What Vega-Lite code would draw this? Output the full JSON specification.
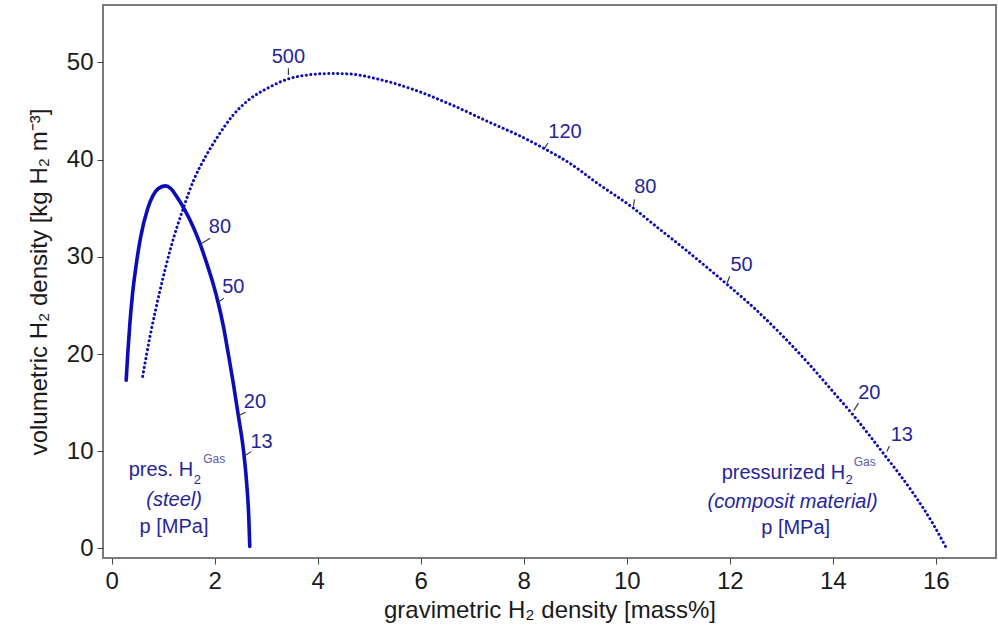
{
  "$schema": "https://vega.github.io/schema/vega-lite/v6.json",
  "width": 893,
  "height": 553,
  "autosize": "none",
  "padding": {"left": 103, "top": 5, "right": 2, "bottom": 69},
  "background": "white",
  "config": {
    "view": {"stroke": "#7a7a7a", "strokeWidth": 2},
    "font": "Liberation Sans",
    "axis": {
      "grid": false,
      "domain": false,
      "tickColor": "#444444",
      "tickWidth": 1,
      "tickSize": 6,
      "labelFont": "Liberation Sans",
      "labelFontSize": 24,
      "labelColor": "#1a1a1a",
      "titleFont": "Liberation Sans",
      "titleFontSize": 24,
      "titleFontWeight": "normal",
      "titleColor": "#1a1a1a"
    }
  },
  "datasets": {
    "steel": [
      {"x": 0.28, "y": 17.3}, {"x": 0.31, "y": 20.0}, {"x": 0.35, "y": 23.0},
      {"x": 0.40, "y": 26.0}, {"x": 0.47, "y": 29.0}, {"x": 0.56, "y": 32.0},
      {"x": 0.70, "y": 35.0}, {"x": 0.80, "y": 36.3}, {"x": 0.90, "y": 37.0},
      {"x": 1.04, "y": 37.3}, {"x": 1.15, "y": 37.0}, {"x": 1.26, "y": 36.2},
      {"x": 1.42, "y": 34.8}, {"x": 1.58, "y": 33.1}, {"x": 1.71, "y": 31.4},
      {"x": 1.84, "y": 29.4}, {"x": 1.97, "y": 27.2}, {"x": 2.07, "y": 25.2},
      {"x": 2.17, "y": 22.8}, {"x": 2.26, "y": 20.1}, {"x": 2.36, "y": 17.0},
      {"x": 2.46, "y": 13.6}, {"x": 2.56, "y": 10.0}, {"x": 2.62, "y": 6.7},
      {"x": 2.66, "y": 3.3}, {"x": 2.68, "y": 0.2}
    ],
    "composite": [
      {"x": 0.60, "y": 17.7}, {"x": 0.75, "y": 22.0}, {"x": 0.94, "y": 26.6},
      {"x": 1.15, "y": 31.0}, {"x": 1.39, "y": 35.0}, {"x": 1.60, "y": 38.0},
      {"x": 1.81, "y": 40.2}, {"x": 2.05, "y": 42.3}, {"x": 2.36, "y": 44.6},
      {"x": 2.65, "y": 46.1}, {"x": 3.01, "y": 47.3}, {"x": 3.43, "y": 48.3},
      {"x": 3.80, "y": 48.7}, {"x": 4.24, "y": 48.85}, {"x": 4.63, "y": 48.8},
      {"x": 5.15, "y": 48.3}, {"x": 5.86, "y": 47.2}, {"x": 6.57, "y": 45.7},
      {"x": 7.35, "y": 43.8}, {"x": 7.90, "y": 42.5}, {"x": 8.41, "y": 41.1},
      {"x": 8.90, "y": 39.6}, {"x": 9.42, "y": 37.6}, {"x": 10.13, "y": 35.0},
      {"x": 10.60, "y": 33.0}, {"x": 11.10, "y": 30.9}, {"x": 11.94, "y": 27.2},
      {"x": 12.50, "y": 24.6}, {"x": 13.04, "y": 21.8}, {"x": 13.50, "y": 19.2},
      {"x": 14.01, "y": 16.1}, {"x": 14.40, "y": 13.7}, {"x": 14.98, "y": 9.8},
      {"x": 15.56, "y": 5.7}, {"x": 15.95, "y": 2.5}, {"x": 16.21, "y": 0.0}
    ],
    "leaders": [
      {"x": 1.75, "y": 31.4, "x2": 1.91, "y2": 31.9},
      {"x": 2.06, "y": 25.3, "x2": 2.18, "y2": 25.75},
      {"x": 2.46, "y": 13.64, "x2": 2.60, "y2": 14.02},
      {"x": 2.57, "y": 9.52, "x2": 2.71, "y2": 9.96},
      {"x": 3.43, "y": 48.7, "x2": 3.43, "y2": 49.4},
      {"x": 8.41, "y": 41.2, "x2": 8.47, "y2": 41.7},
      {"x": 10.13, "y": 35.2, "x2": 10.15, "y2": 35.9},
      {"x": 11.95, "y": 27.3, "x2": 12.0, "y2": 28.0},
      {"x": 14.41, "y": 14.2, "x2": 14.50, "y2": 14.95},
      {"x": 15.05, "y": 9.96, "x2": 15.10, "y2": 10.55}
    ],
    "labels": [
      {"x": 2.10, "y": 33.1, "t": "80"},
      {"x": 2.36, "y": 26.9, "t": "50"},
      {"x": 2.78, "y": 15.1, "t": "20"},
      {"x": 2.91, "y": 11.0, "t": "13"},
      {"x": 3.43, "y": 50.6, "t": "500"},
      {"x": 8.80, "y": 42.8, "t": "120"},
      {"x": 10.36, "y": 37.2, "t": "80"},
      {"x": 12.23, "y": 29.2, "t": "50"},
      {"x": 14.71, "y": 16.0, "t": "20"},
      {"x": 15.34, "y": 11.7, "t": "13"},
      {"x": 1.21, "y": 2.25, "t": "p [MPa]"},
      {"x": 13.28, "y": 2.08, "t": "p [MPa]"}
    ],
    "italics": [
      {"x": 1.21, "y": 5.0, "t": "(steel)"},
      {"x": 13.22, "y": 4.82, "t": "(composit material)"}
    ],
    "heads": [
      {"x": 1.58, "y": 8.03, "t": "pres. H"},
      {"x": 14.24, "y": 7.74, "t": "pressurized H"}
    ],
    "subs": [
      {"x": 1.59, "y": 7.05, "t": "2"},
      {"x": 14.25, "y": 7.05, "t": "2"}
    ],
    "sups": [
      {"x": 1.99, "y": 9.18, "t": "Gas"},
      {"x": 14.62, "y": 8.93, "t": "Gas"}
    ]
  },
  "encoding": {
    "x": {
      "field": "x", "type": "quantitative",
      "scale": {"domain": [-0.17, 17.17], "nice": false, "zero": false},
      "axis": {"values": [0, 2, 4, 6, 8, 10, 12, 14, 16], "title": "gravimetric H₂ density [mass%]", "labelPadding": 5, "titlePadding": 5}
    },
    "y": {
      "field": "y", "type": "quantitative",
      "scale": {"domain": [-0.98, 55.9], "nice": false, "zero": false},
      "axis": {"values": [0, 10, 20, 30, 40, 50], "title": "volumetric H₂ density [kg H₂ m⁻³]", "labelPadding": 4, "titlePadding": 15}
    }
  },
  "layer": [
    {
      "data": {"name": "composite"},
      "mark": {"type": "line", "interpolate": "monotone", "color": "#0c0cb0", "strokeWidth": 3, "strokeDash": [0.1, 4.4], "strokeCap": "round"}
    },
    {
      "data": {"name": "steel"},
      "mark": {"type": "line", "interpolate": "monotone", "color": "#0c0cb8", "strokeWidth": 3.6, "strokeCap": "round", "strokeJoin": "round"}
    },
    {
      "data": {"name": "leaders"},
      "mark": {"type": "rule", "color": "#333333", "strokeWidth": 1.1},
      "encoding": {
        "x2": {"field": "x2"},
        "y2": {"field": "y2"}
      }
    },
    {
      "data": {"name": "labels"},
      "mark": {"type": "text", "color": "#25259a", "fontSize": 20, "align": "center", "baseline": "middle"},
      "encoding": {"text": {"field": "t"}}
    },
    {
      "data": {"name": "italics"},
      "mark": {"type": "text", "color": "#25259a", "fontSize": 20, "fontStyle": "italic", "align": "center", "baseline": "middle"},
      "encoding": {"text": {"field": "t"}}
    },
    {
      "data": {"name": "heads"},
      "mark": {"type": "text", "color": "#25259a", "fontSize": 20, "align": "right", "baseline": "middle"},
      "encoding": {"text": {"field": "t"}}
    },
    {
      "data": {"name": "subs"},
      "mark": {"type": "text", "color": "#25259a", "fontSize": 13, "align": "left", "baseline": "middle"},
      "encoding": {"text": {"field": "t"}}
    },
    {
      "data": {"name": "sups"},
      "mark": {"type": "text", "color": "#5a5aaa", "fontSize": 12, "align": "center", "baseline": "middle"},
      "encoding": {"text": {"field": "t"}}
    }
  ]
}
